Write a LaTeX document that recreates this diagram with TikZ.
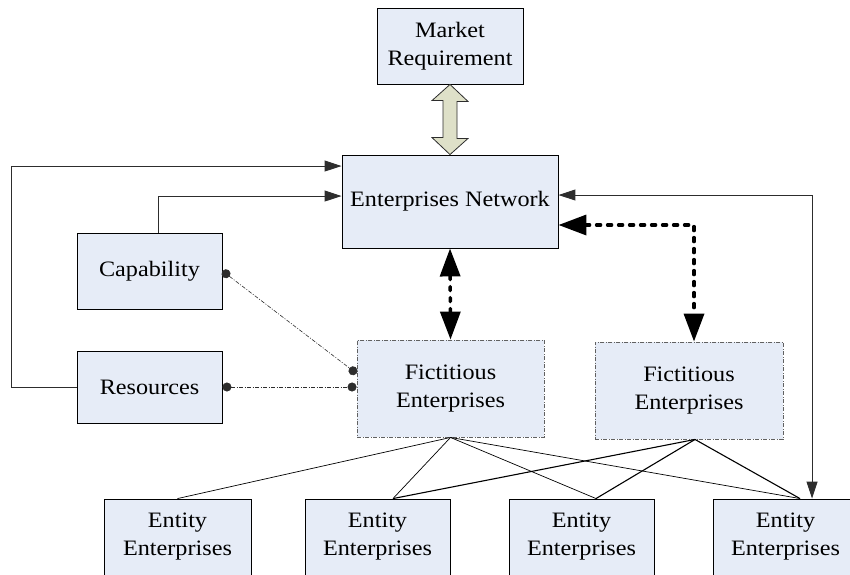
\documentclass[tikz,border=0pt]{standalone}
\usepackage{fontspec}
\setmainfont{Liberation Serif}[FakeStretch=1.1]
\usetikzlibrary{arrows.meta}
\definecolor{boxblue}{RGB}{230,236,247}
\definecolor{arrowfill}{RGB}{222,224,200}
\definecolor{edgegray}{RGB}{45,45,45}
\begin{document}
\begin{tikzpicture}[x=1pt,y=-1pt,
  box/.style={draw=black, fill=boxblue, line width=0.9pt, inner sep=0pt,
    align=center, font=\fontsize{22}{28}\selectfont},
  fictbox/.style={box, draw=edgegray!75, dash pattern=on 4pt off 1.5pt on 1pt off 1.5pt},
  flow/.style={draw=edgegray, line width=1pt, -{Triangle[length=17pt,width=11pt]}},
  flowboth/.style={flow, {Triangle[length=17pt,width=11pt]}-{Triangle[length=17pt,width=11pt]}},
  strongdash/.style={line width=3.5pt, dash pattern=on 4pt off 7pt, line cap=round,
    {Triangle[length=28pt,width=20pt]}-{Triangle[length=28pt,width=20pt]}},
  dotlink/.style={draw=edgegray, line width=0.6pt, dash pattern=on 4pt off 1.5pt on 1pt off 1.5pt,
    {Circle[length=9pt]}-{Circle[length=9pt]}},
  thinlink/.style={draw=black, line width=0.7pt},
  boldlink/.style={draw=black, line width=1.1pt}]
\useasboundingbox (0,0) rectangle (850,574);
\clip (0,0) rectangle (850,574);

% main boxes
\node[box, minimum width=146pt, minimum height=76pt] (mr) at (450,46) {Market\\Requirement};
\node[box, minimum width=216pt, minimum height=93pt] (en) at (450,201.5) {Enterprises Network};
\node[box, minimum width=145pt, minimum height=76pt] (cap) at (149.5,271) {Capability};
\node[box, minimum width=145pt, minimum height=72pt] (res) at (149.5,387) {Resources};
\node[fictbox, minimum width=187pt, minimum height=97pt] (f1) at (450.5,388.5) {Fictitious\\Enterprises};
\node[fictbox, minimum width=188pt, minimum height=97pt] (f2) at (689,390.5) {Fictitious\\Enterprises};

% entity row
\node[box, minimum width=147pt, minimum height=76pt] (e1) at (177.5,537) {Entity\\Enterprises};
\node[box, minimum width=145pt, minimum height=76pt] (e2) at (377.5,537) {Entity\\Enterprises};
\node[box, minimum width=145pt, minimum height=76pt] (e3) at (581.5,537) {Entity\\Enterprises};
\node[box, minimum width=145pt, minimum height=76pt] (e4) at (785.5,537) {Entity\\Enterprises};

% two-way block arrow between market and network
\draw[draw=edgegray, fill=arrowfill, line width=0.8pt]
  (mr.south) -- ++(18,17) -- ++(-11,0) -- ++(0,37) -- ++(11,0) -- (en.north)
  -- ++(-18,-17) -- ++(11,0) -- ++(0,-37) -- ++(-11,0) -- cycle;

% feedback into the network
\draw[flow] (res.west) -- ++(-65,0) |- ([yshift=35.5pt]en.west);
\draw[flow] ([xshift=8.5pt]cap.north) |- ([yshift=5.5pt]en.west);
\draw[flowboth] ([yshift=6.5pt]en.east) -| ([xshift=26.5pt]e4.north);

% strong dashed links to the fictitious enterprises
\draw[strongdash] (en.south) -- (f1.north);
\draw[strongdash] ([yshift=-23.5pt]en.east) -| ([xshift=5pt]f2.north);

% capability and resources feed the first fictitious enterprise
\draw[dotlink] (cap.east) -- ([yshift=15pt]f1.west);
\draw[dotlink] (res.east) -- (res.east -| f1.west);

% fictitious enterprises to entity enterprises
\draw[thinlink] (f1.south) -- (e1.north);
\draw[thinlink] (f1.south) -- ([xshift=15.5pt]e2.north);
\draw[thinlink] (f1.south) -- ([xshift=14.5pt]e3.north);
\draw[thinlink] (f1.south) -- ([xshift=14.5pt]e4.north);
\draw[boldlink] ([xshift=6pt]f2.south) -- ([xshift=15.5pt]e2.north);
\draw[boldlink] ([xshift=6pt]f2.south) -- ([xshift=14.5pt]e3.north);
\draw[boldlink] ([xshift=6pt]f2.south) -- ([xshift=14.5pt]e4.north);
\end{tikzpicture}
\end{document}
